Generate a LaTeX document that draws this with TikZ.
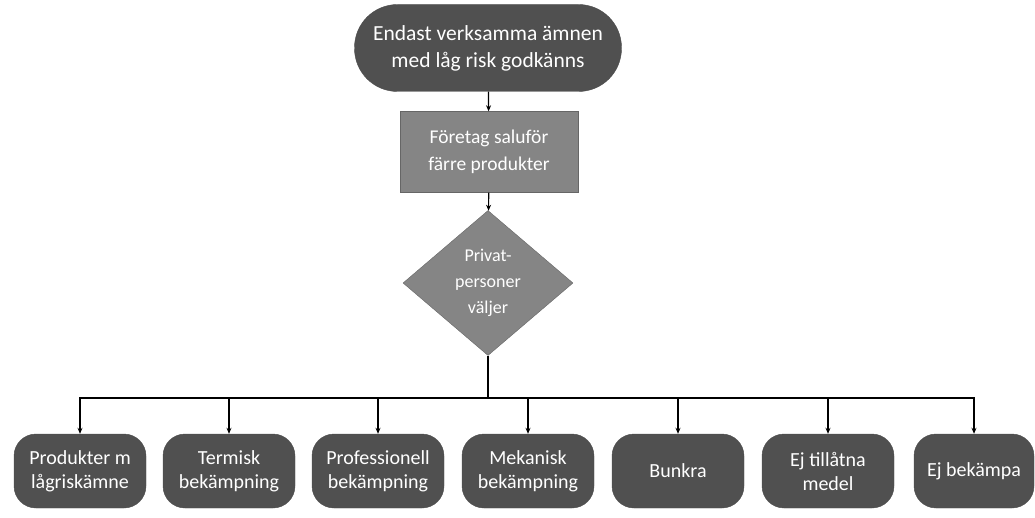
\documentclass[tikz,border=0pt]{standalone}
\usepackage{fontspec}
\setmainfont{Carlito}
\usetikzlibrary{shapes.geometric,arrows.meta}
\definecolor{darkfill}{HTML}{505050}
\definecolor{lightfill}{HTML}{858585}
\tikzset{
  every node/.style={font=\fontsize{20}{24}\selectfont, text=white, align=center, inner sep=0pt},
  startbox/.style={draw=black!70, fill=darkfill, rounded corners=43pt, minimum width=267pt, minimum height=87pt, font=\fontsize{21.5}{27}\selectfont},
  procbox/.style={draw=black!60, fill=lightfill, minimum width=178pt, minimum height=81pt, font=\fontsize{19.5}{27}\selectfont},
  choice/.style={diamond, draw=black!60, fill=lightfill, minimum width=170pt, minimum height=145pt, font=\fontsize{18}{26}\selectfont},
  leaf/.style={draw=black!70, fill=darkfill, rounded corners=22pt, minimum width=132pt, minimum height=74pt},
  conn/.style={draw=black, line width=1.2pt, -{Stealth[length=6pt,width=5pt]}},
  plain/.style={draw=black, line width=1.2pt}
}
\begin{document}
\begin{tikzpicture}[x=1pt, y=-1pt]
\useasboundingbox (0,0) rectangle (1035,518);
\node[startbox] (start) at (488,48) {Endast verksamma ämnen\\med låg risk godkänns};
\node[procbox] (firm) at (489,152) {Företag saluför\\färre produkter};
\node[choice] (priv) at (488,283) {Privat-\\personer\\väljer};
\coordinate (bus) at (488,398);
\node[leaf] (l1) at (80,471) {Produkter m\\lågriskämne};
\node[leaf] (l2) at (229,471) {Termisk\\bekämpning};
\node[leaf] (l3) at (378,471) {Professionell\\bekämpning};
\node[leaf] (l4) at (528,471) {Mekanisk\\bekämpning};
\node[leaf] (l5) at (678,471) {Bunkra};
\node[leaf] (l6) at (828,471) {Ej tillåtna\\medel};
\node[leaf, minimum width=120pt] (l7) at (974,471) {Ej bekämpa};
\draw[conn] (start) -- (firm);
\draw[conn] (firm) -- (priv);
\draw[plain] (priv.south) -- (bus);
\foreach \n in {l1,l2,l3,l4,l5,l6,l7} {
  \draw[conn] (bus) -| (\n.north);
}
\end{tikzpicture}
\end{document}
